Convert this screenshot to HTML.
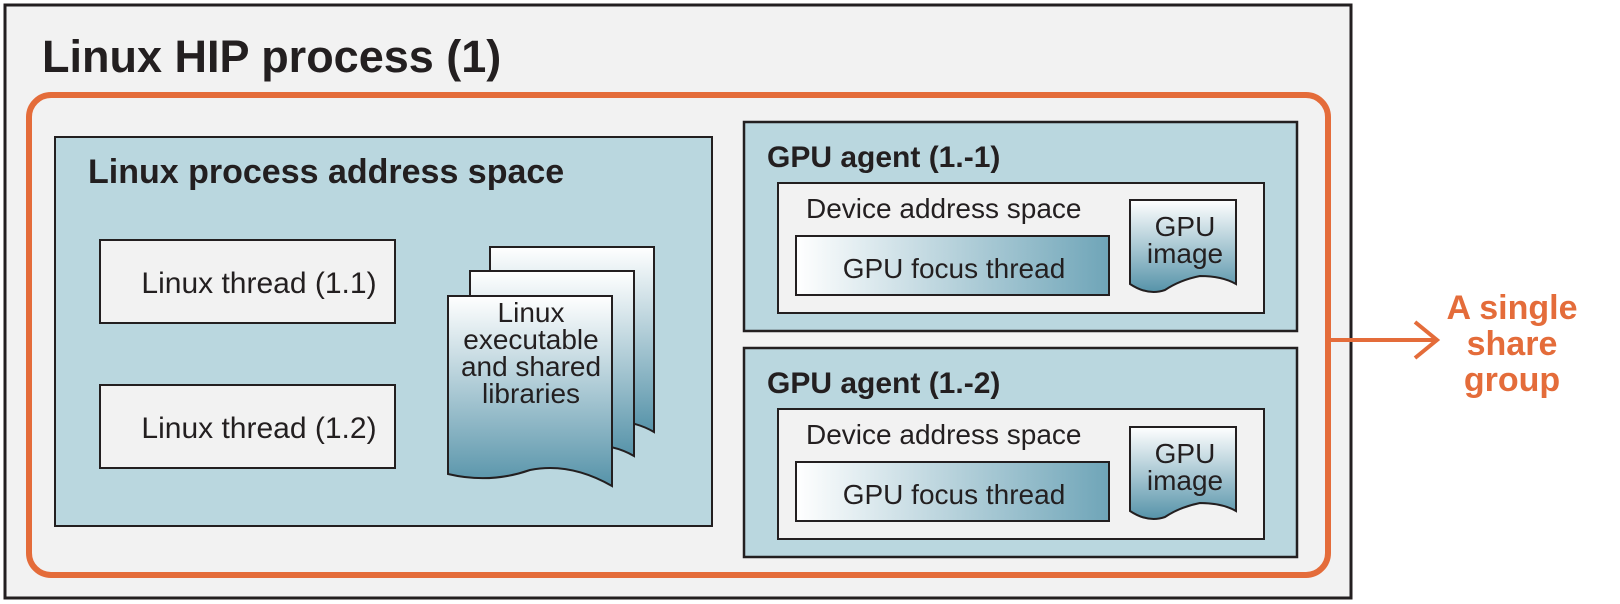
<!DOCTYPE html>
<html><head><meta charset="utf-8"><style>
html,body{margin:0;padding:0;background:#fff;}
svg{display:block;}
text{font-family:"Liberation Sans",Arial,sans-serif;fill:#231f20;}
</style></head><body>
<svg width="1620" height="604" viewBox="0 0 1620 604" xmlns="http://www.w3.org/2000/svg">
<defs>
<linearGradient id="hg" x1="0" y1="0" x2="1" y2="0"><stop offset="0" stop-color="#ffffff"/><stop offset="1" stop-color="#6fa5b8"/></linearGradient>
<linearGradient id="vg" x1="0" y1="0" x2="0" y2="1"><stop offset="0" stop-color="#ffffff"/><stop offset="1" stop-color="#5693a9"/></linearGradient>
</defs>
<rect x="5" y="5" width="1346" height="593" fill="#f2f2f2" stroke="#231f20" stroke-width="3"/>
<text x="42" y="72" font-size="45" font-weight="bold">Linux HIP process (1)</text>
<rect x="29" y="95" width="1299" height="480" rx="22" fill="none" stroke="#e46c3a" stroke-width="6"/>
<!-- Linux address space -->
<rect x="55" y="137" width="657" height="389" fill="#bad7df" stroke="#231f20" stroke-width="2"/>
<text x="88" y="183" font-size="34" font-weight="bold">Linux process address space</text>
<rect x="100" y="240" width="295" height="83" fill="#f2f2f2" stroke="#231f20" stroke-width="2"/>
<text x="259" y="293" font-size="30" text-anchor="middle">Linux thread (1.1)</text>
<rect x="100" y="385" width="295" height="83" fill="#f2f2f2" stroke="#231f20" stroke-width="2"/>
<text x="259" y="438" font-size="30" text-anchor="middle">Linux thread (1.2)</text>
<path d="M490 247 H654 V432 Q620 412 560 426 Q520 436 490 420 Z" fill="url(#vg)" stroke="#231f20" stroke-width="2"/>
<path d="M470 271 H634 V456 Q600 436 540 450 Q500 460 470 444 Z" fill="url(#vg)" stroke="#231f20" stroke-width="2"/>
<path d="M448 296 H612 V486 Q570 462 530 470 Q490 484 448 474 Z" fill="url(#vg)" stroke="#231f20" stroke-width="2"/>
<g font-size="28" text-anchor="middle"><text x="531" y="322">Linux</text><text x="531" y="349">executable</text><text x="531" y="376">and shared</text><text x="531" y="403">libraries</text></g>
<!-- GPU agent 1 -->
<rect x="744" y="122" width="553" height="209" fill="#bad7df" stroke="#231f20" stroke-width="2.5"/>
<text x="767" y="167" font-size="30" font-weight="bold">GPU agent (1.-1)</text>
<rect x="778" y="183" width="486" height="130" fill="#f2f2f2" stroke="#231f20" stroke-width="2"/>
<text x="806" y="218" font-size="28">Device address space</text>
<rect x="796" y="236" width="313" height="59" fill="url(#hg)" stroke="#231f20" stroke-width="2"/>
<text x="954" y="278" font-size="28" text-anchor="middle">GPU focus thread</text>
<path d="M1130 200 H1236 V284 Q1222 276 1200 276 Q1180 280 1165 290 Q1148 296 1130 284 Z" fill="url(#vg)" stroke="#231f20" stroke-width="2"/>
<text x="1185" y="236" font-size="28" text-anchor="middle">GPU</text><text x="1185" y="263" font-size="28" text-anchor="middle">image</text>
<!-- GPU agent 2 -->
<rect x="744" y="348" width="553" height="209" fill="#bad7df" stroke="#231f20" stroke-width="2.5"/>
<text x="767" y="393" font-size="30" font-weight="bold">GPU agent (1.-2)</text>
<rect x="778" y="409" width="486" height="130" fill="#f2f2f2" stroke="#231f20" stroke-width="2"/>
<text x="806" y="444" font-size="28">Device address space</text>
<rect x="796" y="462" width="313" height="59" fill="url(#hg)" stroke="#231f20" stroke-width="2"/>
<text x="954" y="504" font-size="28" text-anchor="middle">GPU focus thread</text>
<path d="M1130 427 H1236 V511 Q1222 503 1200 503 Q1180 507 1165 517 Q1148 523 1130 511 Z" fill="url(#vg)" stroke="#231f20" stroke-width="2"/>
<text x="1185" y="463" font-size="28" text-anchor="middle">GPU</text><text x="1185" y="490" font-size="28" text-anchor="middle">image</text>
<!-- arrow -->
<line x1="1331" y1="340" x2="1436" y2="340" stroke="#e46c3a" stroke-width="4"/>
<polyline points="1415,322 1437,340 1415,358" fill="none" stroke="#e46c3a" stroke-width="4"/>
<g font-size="34" font-weight="bold" text-anchor="middle"><text x="1512" y="319" style="fill:#e46c3a">A single</text><text x="1512" y="355" style="fill:#e46c3a">share</text><text x="1512" y="391" style="fill:#e46c3a">group</text></g>
</svg>
</body></html>
